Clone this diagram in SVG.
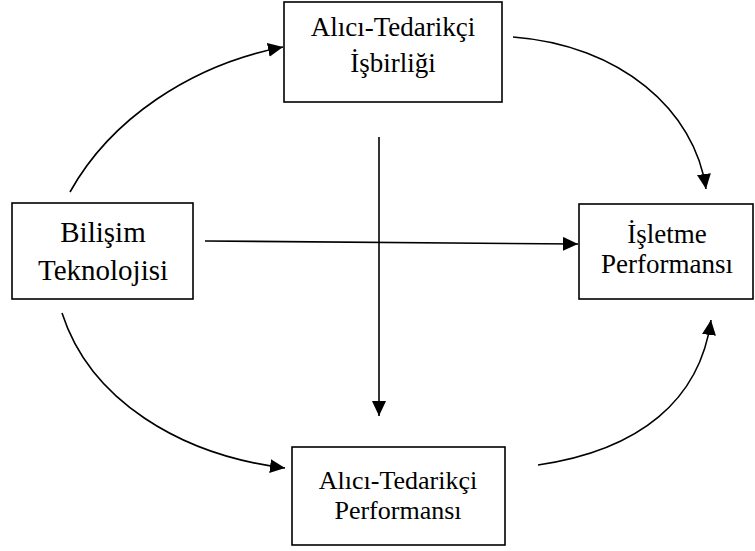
<svg xmlns="http://www.w3.org/2000/svg" width="755" height="551" viewBox="0 0 755 551">
  <style>
    .box { fill: #ffffff; stroke: #000000; stroke-width: 1.6; }
    .lbl { font-family: "Liberation Serif", "Times New Roman", serif; font-size: 27px; fill: #000000; text-anchor: middle; }
    .big { font-size: 29px; }
    .sm { font-size: 26px; }
    .edge { fill: none; stroke: #000000; stroke-width: 1.6; marker-end: url(#arrow); }
  </style>
  <defs>
    <marker id="arrow" markerUnits="userSpaceOnUse" markerWidth="16" markerHeight="14" refX="15" refY="7" orient="auto">
      <path d="M0,0 L15,7 L0,14 Z" fill="#000000"/>
    </marker>
  </defs>

  <rect width="755" height="551" fill="#ffffff"/>

  <g id="connectors">
    <path class="edge" d="M70,192 C110,120 190,65 283,47"/>
    <path class="edge" d="M513,37 C620,45 695,110 706,189"/>
    <path class="edge" d="M205,241 L578,244"/>
    <path class="edge" d="M379,137 L379,416"/>
    <path class="edge" d="M62,313 C90,400 180,455 285,468"/>
    <path class="edge" d="M538,465 C640,450 700,400 711,320"/>
  </g>

  <g id="bilisim">
    <rect class="box" x="12" y="203" width="181" height="96"/>
    <text class="lbl big" x="103" y="242">Bilişim</text>
    <text class="lbl big" x="103" y="280">Teknolojisi</text>
  </g>

  <g id="isbirligi">
    <rect class="box" x="284" y="2" width="218" height="100"/>
    <text class="lbl" x="393" y="36">Alıcı-Tedarikçi</text>
    <text class="lbl" x="393" y="72">İşbirliği</text>
  </g>

  <g id="isletme">
    <rect class="box" x="579" y="204" width="174" height="95"/>
    <text class="lbl" x="667" y="243">İşletme</text>
    <text class="lbl" x="667" y="273">Performansı</text>
  </g>

  <g id="tedarikci-performansi">
    <rect class="box" x="292" y="447" width="213" height="98"/>
    <text class="lbl sm" x="398" y="489">Alıcı-Tedarikçi</text>
    <text class="lbl sm" x="398" y="519">Performansı</text>
  </g>
</svg>
